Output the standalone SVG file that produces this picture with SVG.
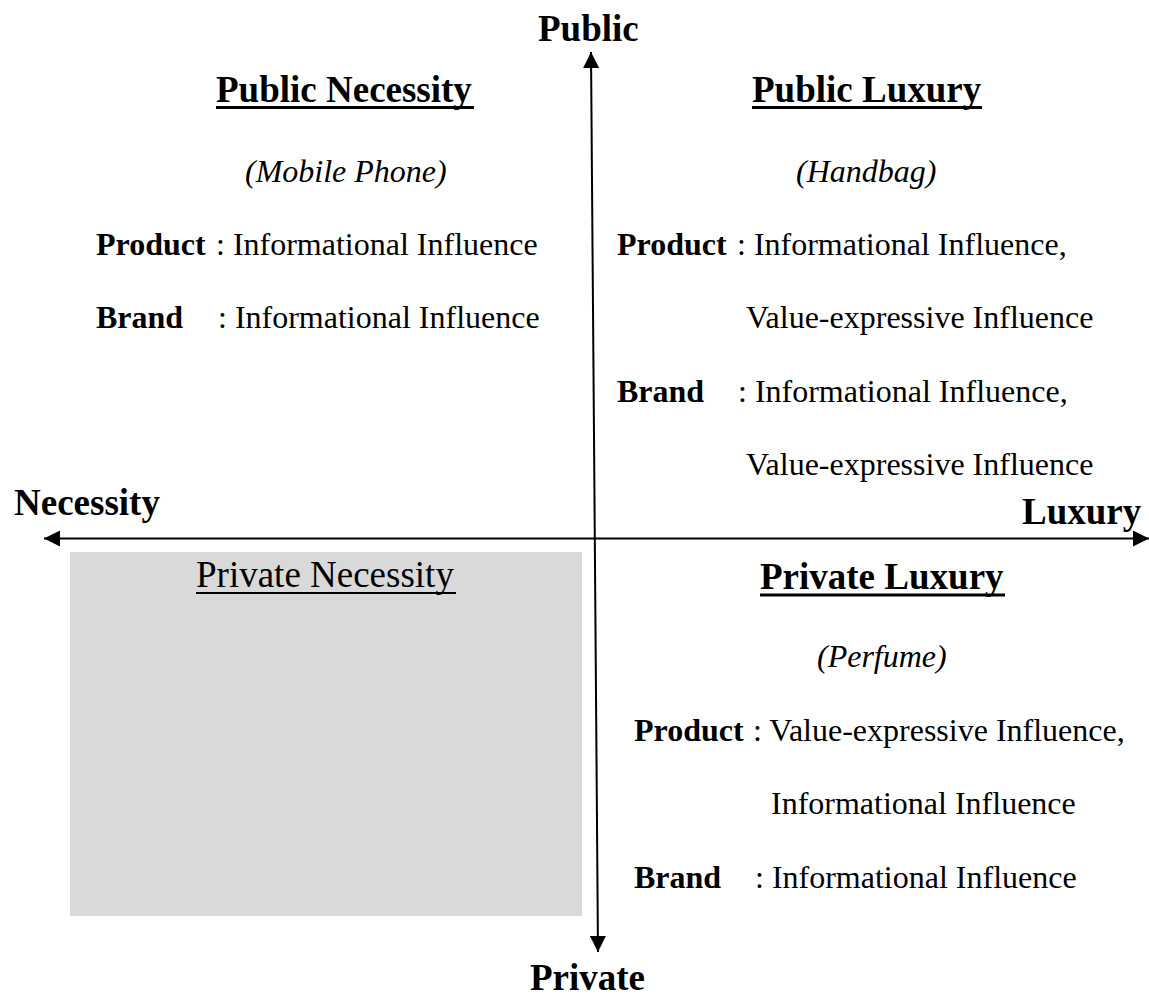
<svg xmlns="http://www.w3.org/2000/svg" width="1149" height="999" viewBox="0 0 1149 999">
  <style>
    text { font-family: "Liberation Serif", "Times New Roman", serif; fill: #000; }
    .axis-label { font-size: 37px; font-weight: bold; }
    .head { font-size: 37px; font-weight: bold; }
    .head-plain { font-size: 37px; }
    .example { font-size: 32px; font-style: italic; }
    .body { font-size: 32px; }
    .key { font-size: 32px; font-weight: bold; }
    .axis { stroke: #000; stroke-width: 2; fill: none; }
    .uline { stroke: #000; stroke-width: 3; }
    .uline-thin { stroke: #000; stroke-width: 1.8; }
  </style>
  <defs>
    <marker id="arrow" viewBox="0 0 16 16" refX="16" refY="8" markerWidth="16" markerHeight="16" markerUnits="userSpaceOnUse" orient="auto">
      <path d="M0,0 L16,8 L0,16 Z" fill="#000"/>
    </marker>
  </defs>

  <rect width="1149" height="999" fill="#fff"/>

  <!-- shaded quadrant -->
  <g id="private-necessity">
    <rect x="70" y="552" width="512" height="364" fill="#d9d9d9"/>
    <text class="head-plain" x="196" y="587">Private Necessity</text>
    <line class="uline-thin" x1="196" y1="593" x2="456" y2="593"/>
  </g>

  <!-- axes -->
  <g id="connectors">
    <line class="axis" x1="594.8" y1="538.5" x2="591" y2="52" marker-end="url(#arrow)"/>
    <line class="axis" x1="594.8" y1="538.5" x2="598" y2="952" marker-end="url(#arrow)"/>
    <line class="axis" x1="594.8" y1="538.5" x2="44" y2="538.5" marker-end="url(#arrow)"/>
    <line class="axis" x1="594.8" y1="538.5" x2="1149" y2="538.5" marker-end="url(#arrow)"/>
  </g>

  <!-- axis labels -->
  <g id="axis-labels">
    <text class="axis-label" x="538" y="41">Public</text>
    <text class="axis-label" x="530" y="990">Private</text>
    <text class="axis-label" x="14" y="515">Necessity</text>
    <text class="axis-label" x="1022" y="524">Luxury</text>
  </g>

  <g id="public-necessity">
    <text class="head" x="216" y="102">Public Necessity</text>
    <line class="uline" x1="216" y1="107.5" x2="474" y2="107.5"/>
    <text class="example" x="245" y="182">(Mobile Phone)</text>
    <text class="key" x="96" y="255">Product</text>
    <text class="body" x="216" y="255">: Informational Influence</text>
    <text class="key" x="96" y="328">Brand</text>
    <text class="body" x="218" y="328">: Informational Influence</text>
  </g>

  <g id="public-luxury">
    <text class="head" x="752" y="102">Public Luxury</text>
    <line class="uline" x1="752" y1="107.5" x2="982" y2="107.5"/>
    <text class="example" x="796" y="182">(Handbag)</text>
    <text class="key" x="617" y="255">Product</text>
    <text class="body" x="737" y="255">: Informational Influence,</text>
    <text class="body" x="746" y="328">Value-expressive Influence</text>
    <text class="key" x="617" y="402">Brand</text>
    <text class="body" x="738" y="402">: Informational Influence,</text>
    <text class="body" x="746" y="475">Value-expressive Influence</text>
  </g>

  <g id="private-luxury">
    <text class="head" x="760" y="589">Private Luxury</text>
    <line class="uline" x1="760" y1="595" x2="1005" y2="595"/>
    <text class="example" x="817" y="667">(Perfume)</text>
    <text class="key" x="634" y="741">Product</text>
    <text class="body" x="753" y="741">: Value-expressive Influence,</text>
    <text class="body" x="771" y="814">Informational Influence</text>
    <text class="key" x="634" y="888">Brand</text>
    <text class="body" x="755" y="888">: Informational Influence</text>
  </g>
</svg>
